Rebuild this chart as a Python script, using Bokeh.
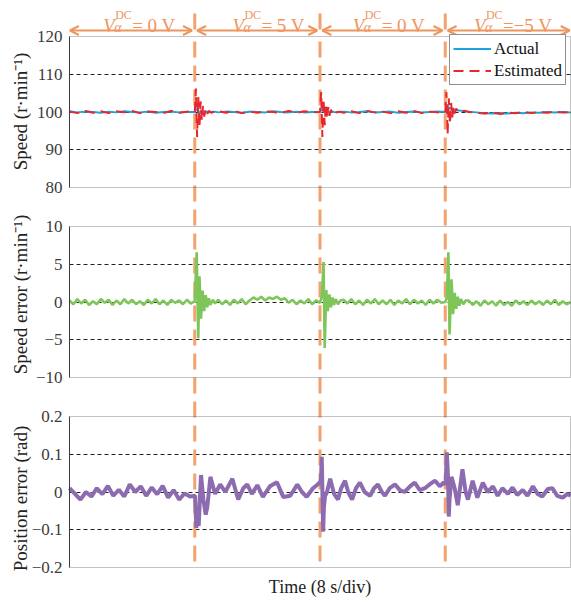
import numpy as np
from math import pi
from bokeh.plotting import figure
from bokeh.models import (Range1d, LinearAxis, FixedTicker, Grid, BoxAnnotation,
                          Arrow, OpenHead, Label, Legend, LegendItem)
from bokeh.embed import file_html
from bokeh.resources import INLINE

# ---------------- data ----------------
step_times = [16, 32, 48]
time_end = 64
header_values = ["= 0 V", "= 5 V", "= 0 V", "=\u22125 V"]

speed_ticks = [120, 110, 100, 90, 80]
speed_tick_labels = ["120", "110", "100", "90", "80"]
err_ticks = [10, 5, 0, -5, -10]
err_tick_labels = ["10", "5", "0", "\u22125", "\u221210"]
pos_ticks = [0.2, 0.1, 0.0, -0.1, -0.2]
pos_tick_labels = ["0.2", "0.1", "0", "\u22120.1", "\u22120.2"]

speed_time = (list(np.arange(0, 16, 1.0))
              + [16.0, 16.15, 16.3, 16.45, 16.6, 16.75, 16.9, 17.05, 17.2, 17.4, 17.6, 17.8, 18.1, 18.5]
              + list(np.arange(19, 32, 1.0))
              + [32.0, 32.15, 32.3, 32.45, 32.6, 32.75, 32.9, 33.05, 33.2, 33.4, 33.6, 33.8, 34.1, 34.5]
              + list(np.arange(35, 48, 1.0))
              + [48.0, 48.15, 48.3, 48.45, 48.6, 48.75, 48.9, 49.05, 49.2, 49.4, 49.6, 49.8, 50.1, 50.5]
              + list(np.arange(51, 65, 1.0)))
speed_actual = [100.2, 99.9, 100.1, 100.0, 99.8, 100.1, 99.9, 100.2, 100.0, 99.9, 100.1, 99.8, 100.0, 100.1, 99.9, 100.0,
                100.0, 100.6, 101.0, 100.4, 99.7, 99.8, 100.3, 100.2, 99.9, 100.0, 100.1, 99.9, 100.0, 100.1,
                99.9, 100.1, 100.0, 99.8, 100.1, 100.0, 99.9, 100.2, 100.0, 99.9, 100.1, 99.9, 100.0,
                100.0, 100.5, 100.9, 100.3, 99.8, 99.9, 100.2, 100.1, 99.9, 100.0, 100.1, 100.0, 99.9, 100.0,
                100.1, 99.9, 100.0, 100.2, 99.9, 100.0, 100.1, 99.8, 100.0, 100.1, 99.9, 100.0, 100.1,
                100.0, 100.8, 101.6, 101.2, 100.9, 101.0, 100.8, 100.7, 100.6, 100.5, 100.4, 100.4, 100.3, 100.2,
                100.1, 99.9, 99.7, 99.6, 99.7, 99.6, 99.8, 99.7, 99.9, 99.8, 100.0, 99.9, 100.0, 99.9]
speed_estimated = [100.1, 99.7, 100.3, 99.8, 100.2, 99.7, 100.2, 99.9, 100.3, 99.7, 100.1, 100.0, 99.7, 100.3, 99.8, 100.1,
                   100.0, 106.2, 93.4, 104.0, 96.0, 102.8, 97.8, 101.6, 98.8, 100.8, 99.5, 100.3, 99.8, 100.1,
                   100.2, 99.8, 100.3, 99.7, 100.1, 99.8, 100.2, 100.0, 99.7, 100.3, 99.8, 100.2, 99.9,
                   100.0, 105.3, 93.4, 103.5, 96.5, 102.2, 98.2, 101.3, 99.0, 100.6, 99.6, 100.3, 99.9, 100.1,
                   99.8, 100.2, 99.7, 100.3, 99.9, 100.1, 99.7, 100.2, 99.8, 100.3, 99.7, 100.1, 99.9,
                   100.0, 105.3, 94.0, 103.6, 96.8, 102.4, 98.6, 101.5, 99.6, 100.9, 100.3, 100.6, 100.2, 100.3,
                   100.0, 99.8, 99.6, 99.9, 99.5, 99.8, 99.7, 100.0, 99.7, 100.0, 99.8, 100.1, 99.9, 100.0]

err_time = (list(np.arange(0, 16, 0.5))
            + [16.0, 16.25, 16.45, 16.6, 16.8, 17.0, 17.2, 17.4, 17.6, 17.8, 18.0, 18.3, 18.6]
            + list(np.arange(19, 32, 0.5))
            + [32.0, 32.25, 32.45, 32.6, 32.8, 33.0, 33.2, 33.4, 33.6, 33.8, 34.0, 34.3, 34.6]
            + list(np.arange(35, 48, 0.5))
            + [48.0, 48.2, 48.4, 48.55, 48.8, 49.0, 49.2, 49.4, 49.6, 49.8, 50.0, 50.3, 50.6]
            + list(np.arange(51, 64.5, 0.5)))
err_values = [0.2, -0.3, 0.4, -0.2, 0.3, -0.4, 0.1, -0.3, 0.4, -0.1, 0.3, -0.4, 0.2, -0.3, 0.4, -0.2,
              0.3, -0.3, 0.1, -0.4, 0.3, -0.2, 0.4, -0.3, 0.2, -0.4, 0.3, -0.1, 0.2, -0.3, 0.3, -0.2,
              0.1, 6.6, -4.8, 3.4, -2.2, 1.5, -1.2, 0.9, -0.7, 0.5, -0.4, 0.3, -0.2,
              0.3, -0.3, 0.2, -0.4, 0.3, -0.2, 0.4, -0.3, 0.2, 0.6, 0.3, 0.7, 0.2, 0.6, 0.4, 0.7,
              0.3, 0.5, -0.1, 0.3, -0.3, 0.2, -0.2, 0.4, -0.3, 0.2,
              -0.1, 0.8, 5.3, -6.1, 1.6, -1.2, 1.0, -0.7, 0.6, -0.4, 0.4, -0.3, 0.2,
              0.3, -0.2, 0.4, -0.3, 0.2, -0.4, 0.3, -0.2, 0.4, -0.3, 0.2, -0.3, 0.3, -0.4, 0.2, -0.2,
              0.4, -0.3, 0.3, -0.2, 0.2, -0.4, 0.3, -0.2, 0.3, -0.1,
              0.0, 0.6, 6.6, -4.3, 3.0, -1.6, 1.2, -0.9, 0.7, -0.5, 0.4, -0.3, 0.2,
              0.2, -0.4, 0.1, -0.5, 0.2, -0.3, 0.1, -0.5, 0.2, -0.4, 0.0, -0.5, 0.2, -0.3,
              0.1, -0.4, 0.2, -0.3, 0.1, -0.4, 0.2, -0.3, 0.3, -0.4, 0.1, -0.3, 0.0]

pos_time = (list(np.arange(0, 15.5, 0.7))
            + [16.05, 16.2, 16.4, 16.5, 16.8, 17.1, 17.4, 17.6, 18.0, 18.4,
               18.6, 19.25, 19.9, 20.8, 21.55, 22.2, 22.7, 23.3, 24.0, 24.7,
               25.6, 26.5, 27.3, 28.2, 29.1, 29.7, 30.3, 31.1, 31.7, 32.0]
            + [32.13, 32.22, 32.33, 32.4, 32.5, 32.65, 32.9, 33.3, 33.8, 34.3,
               34.7, 35.2, 35.6, 36.1, 36.6, 37.1, 37.7, 38.4, 38.9, 39.4,
               39.9, 40.3, 40.9, 41.6, 42.2, 42.8, 43.5, 44.1, 44.75, 45.4,
               46.0, 46.7, 47.3, 47.8, 48.0]
            + [48.07, 48.2, 48.35, 48.45, 48.55, 48.8, 49.2, 49.6, 50.2, 50.6,
               50.9, 51.5, 52.1, 52.8, 53.4, 54.1, 54.7, 55.3, 56.0, 56.6,
               57.2, 57.9, 58.5, 59.2, 59.8, 60.4, 61.1, 61.7, 62.3, 63.0,
               63.6, 64.0])
pos_values = [0.01, -0.005, -0.02, 0.0, -0.012, 0.01, -0.006, 0.016, -0.01, 0.006,
              -0.012, 0.02, 0.0, 0.015, -0.01, 0.012, -0.006, 0.016, -0.015, 0.005,
              -0.02, -0.004, -0.012,
              -0.01, -0.095, -0.06, -0.09, 0.045, -0.02, -0.06, -0.04, 0.04, 0.01,
              -0.005, 0.02, 0.0, 0.035, -0.02, 0.01, 0.02, -0.005, 0.018, -0.013,
              0.015, 0.026, -0.013, -0.01, 0.02, 0.0, -0.013, 0.01, 0.02, 0.026,
              0.03, 0.093, -0.02, -0.105, -0.04, -0.01, 0.0, 0.035, -0.005, -0.02,
              0.01, 0.03, 0.0, -0.02, 0.01, 0.025, 0.0, -0.01, 0.01, 0.02,
              0.0, -0.01, 0.01, 0.02, 0.005, 0.0, 0.015, 0.025, 0.005, 0.01,
              0.02, 0.03, 0.015, 0.025, 0.02,
              0.03, 0.105, 0.04, -0.065, -0.02, 0.04, 0.01, -0.035, 0.06, 0.0,
              -0.02, 0.03, -0.015, 0.025, 0.0, 0.015, -0.01, 0.01, -0.005, 0.012,
              -0.008, 0.005, -0.01, 0.015, -0.005, -0.012, 0.008, 0.01, -0.01, -0.015,
              -0.005, -0.01]

# ---------------- style / layout ----------------
FONT = "Liberation Serif"
ORANGE_LINE = "#F3A26D"
ORANGE_TEXT = "#EE965E"
CYAN = "#1FA3DC"
RED = "#E8262D"
GREEN = "#7EC65A"
PURPLE = "#8C6BB1"
BOX = "#3a3a3a"

W, H = 571, 603
PLOT_L, PLOT_R = 69, 570                      # page x of time 0 and time_end
PANEL_Y = [(36, 187), (226, 377), (416, 567)]  # page y of panel tops / bottoms
TITLE_Y = [111, 294, 498]                      # page y of the y-axis title centres
px_per_t = (PLOT_R - PLOT_L) / time_end

p = figure(width=W, height=H, output_backend="svg", toolbar_location=None, title=None,
           x_range=Range1d(-PLOT_L / px_per_t, time_end + (W - PLOT_R) / px_per_t),
           y_range=Range1d(H, 0),            # default range: page pixels, top-down
           x_axis_location=None, y_axis_location=None,
           min_border=0, min_border_left=0, min_border_right=0,
           min_border_top=0, min_border_bottom=0)
p.outline_line_color = None
p.xgrid.visible = False
p.ygrid.visible = False


def panel_range(lo, hi, top, bot):
    u = (hi - lo) / (bot - top)
    return Range1d(start=lo - (H - bot) * u, end=hi + top * u)


panels = [
    ("speed", speed_ticks, speed_tick_labels, [90, 100, 110], "Speed (r\u00b7min\u207b\u00b9)"),
    ("err", err_ticks, err_tick_labels, [-5, 0, 5], "Speed error (r\u00b7min\u207b\u00b9)"),
    ("pos", pos_ticks, pos_tick_labels, [-0.1, 0.0, 0.1], "Position error (rad)"),
]
p.extra_y_ranges = {name: panel_range(min(t), max(t), *PANEL_Y[i])
                    for i, (name, t, *_r) in enumerate(panels)}

has_cross = "cross_bounds" in Grid.properties()
for i, (name, ticks, labels, gticks, title) in enumerate(panels):
    lo, hi = min(ticks), max(ticks)
    if has_cross:
        p.add_layout(Grid(dimension=1, y_range_name=name, ticker=FixedTicker(ticks=gticks),
                          cross_bounds=(0, time_end), grid_line_color="#222222",
                          grid_line_dash="4 3", grid_line_width=1))
    else:
        p.segment(x0=[0] * len(gticks), y0=gticks, x1=[time_end] * len(gticks), y1=gticks,
                  y_range_name=name, line_color="#222222", line_dash="4 3", line_width=1)
    ax = LinearAxis(y_range_name=name, fixed_location=0, bounds=(lo, hi),
                    ticker=FixedTicker(ticks=ticks),
                    major_label_overrides={t: s for t, s in zip(ticks, labels)},
                    major_tick_in=0, major_tick_out=0, minor_tick_in=0, minor_tick_out=0,
                    major_label_standoff=7, axis_line_color=BOX, axis_line_width=1,
                    major_label_text_font=FONT, major_label_text_font_size="17px",
                    major_label_text_color="#3c3c3c")
    p.add_layout(ax, "left")
    p.add_layout(BoxAnnotation(left=0, right=time_end, bottom=lo, top=hi, y_range_name=name,
                               fill_color=None, fill_alpha=0, line_color=BOX, line_width=1,
                               level="overlay"))
    p.add_layout(Label(x=0, y=TITLE_Y[i], x_offset=-49, angle=pi / 2, text=title,
                       text_align="center", text_baseline="middle", text_font=FONT,
                       text_font_size="19px", text_color="#222222"))

# orange dashed step markers (page y from below the header to the last panel bottom)
p.segment(x0=step_times, y0=[41] * len(step_times), x1=step_times,
          y1=[PANEL_Y[-1][1]] * len(step_times),
          line_color=ORANGE_LINE, line_width=3, line_dash="16 8")

# traces
r_act = p.line(speed_time, speed_actual, y_range_name="speed", line_color=CYAN, line_width=2)
r_est = p.line(speed_time, speed_estimated, y_range_name="speed", line_color=RED,
               line_width=2, line_dash="10 6")
p.line(err_time, err_values, y_range_name="err", line_color=GREEN, line_width=2.6)
p.line(pos_time, pos_values, y_range_name="pos", line_color=PURPLE, line_width=4)

legend = Legend(items=[LegendItem(label="Actual", renderers=[r_act]),
                       LegendItem(label="Estimated", renderers=[r_est])],
                location=(449, H - 36 - 49), margin=0, padding=3, spacing=1,
                glyph_width=38, glyph_height=21, label_height=21, label_standoff=3,
                label_text_font=FONT, label_text_font_size="17px", label_text_color="#111111",
                border_line_color="#222222", border_line_width=1,
                background_fill_color="white", background_fill_alpha=1)
p.add_layout(legend)

# x-axis title
p.add_layout(Label(x=time_end / 2, y=586, text="Time (8 s/div)", text_align="center",
                   text_baseline="middle", text_font=FONT, text_font_size="18px",
                   text_color="#222222"))

# header: arrows, separators and voltage labels (page y coordinates)
bounds = [0] + step_times + [time_end]
for k in range(4):
    a0 = bounds[k] + (0.05 if k == 0 else 0.3)
    a1 = bounds[k + 1] - (0.1 if k == 3 else 0.35)
    p.add_layout(Arrow(x_start=a0, x_end=a1, y_start=30, y_end=30,
                       start=OpenHead(size=9, line_color=ORANGE_TEXT, line_width=2),
                       end=OpenHead(size=9, line_color=ORANGE_TEXT, line_width=2),
                       line_color=ORANGE_TEXT, line_width=2))
for t in step_times:
    p.add_layout(Arrow(x_start=t, x_end=t, y_start=13, y_end=29,
                       start=None, end=None, line_color=ORANGE_LINE, line_width=3))

label_shift = [-29, -25, -30, -34]
for k in range(4):
    cx = (bounds[k] + bounds[k + 1]) / 2
    off = label_shift[k]
    pieces = [("V", off, 25, "19px", "italic"),
              ("DC", off + 12, 14, "12px", "normal"),
              ("\u03b1", off + 11, 27, "14px", "italic"),
              (header_values[k], off + 29, 25, "19px", "normal")]
    for txt, xo, yb, fs, st in pieces:
        p.add_layout(Label(x=cx, y=yb, x_offset=xo, text=txt,
                           text_align="left", text_baseline="alphabetic",
                           text_font=FONT, text_font_size=fs, text_font_style=st,
                           text_color=ORANGE_TEXT))

open("out.html", "w").write(file_html(p, INLINE))
